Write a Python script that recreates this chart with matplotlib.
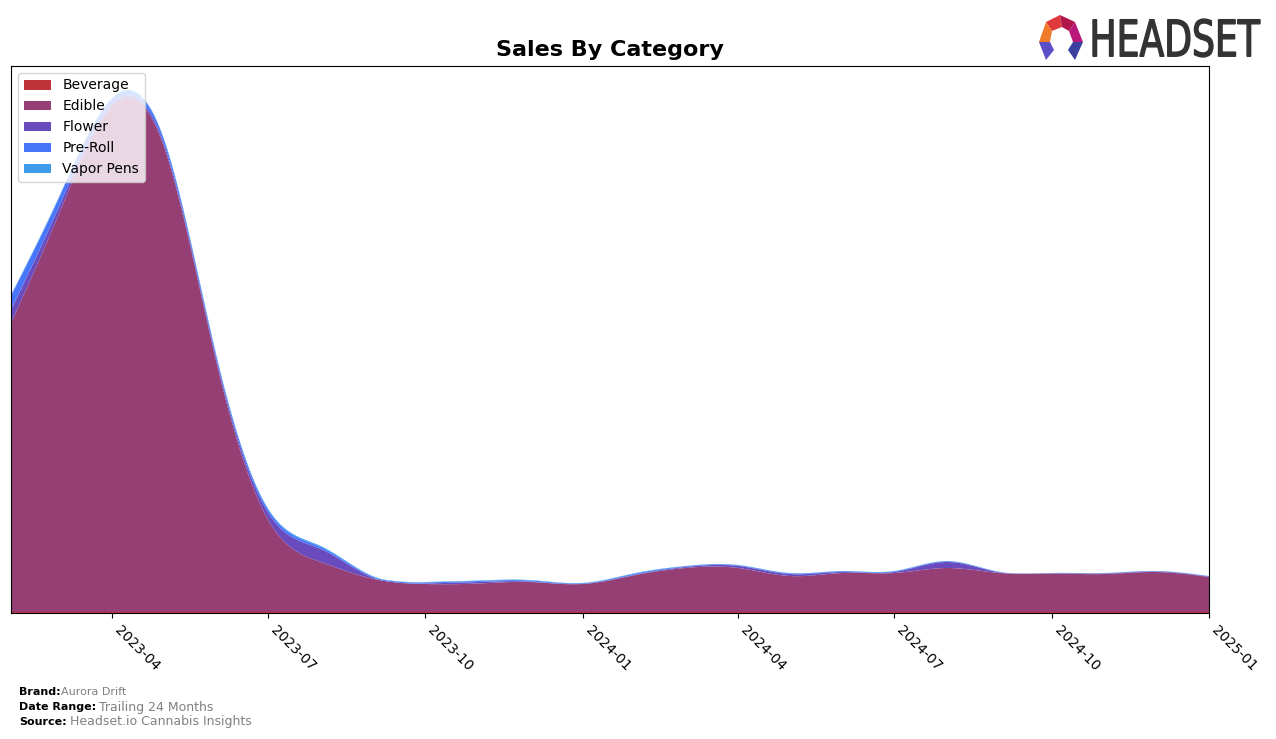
"""
Sales By Category - stacked area chart for Aurora Drift (trailing 24 months).

Saves: out.png
"""

import matplotlib
matplotlib.use("Agg")
import matplotlib.pyplot as plt
import matplotlib.dates as mdates
import numpy as np
import pandas as pd
from matplotlib.patches import PathPatch, Polygon
from matplotlib.textpath import TextPath
from matplotlib.font_manager import FontProperties
from matplotlib.transforms import Affine2D

W, H = 1276, 739

# ---------------------------------------------------------------------------
# Data (monthly, arbitrary sales units)
# ---------------------------------------------------------------------------
months = pd.date_range("2023-02-01", "2025-01-01", freq="MS")

categories = ["Beverage", "Edible", "Flower", "Pre-Roll", "Vapor Pens"]
colors = ["#c0323a", "#963f75", "#6a4bbd", "#4876fb", "#3d9be9"]

beverage = [1, 1, 1, 1, 1, 1, 1, 1, 1, 1, 1, 1,
            1, 1, 1, 1, 1, 1, 1, 1, 1, 1, 1, 1]
edible = [289, 398, 505, 467, 250, 93, 50, 33, 28, 28.5, 30, 28,
          37, 44, 44, 36, 39, 39, 44, 39, 38.5, 38, 40, 35]
flower = [13, 7, 3, 3, 3, 7, 13, 1, 0.5, 1.5, 0.5, 0.2,
          0.5, 1, 2, 2, 1, 1, 6, 0.5, 0.2, 0.5, 0.5, 0.5]
preroll = [14, 9, 5, 4, 3, 3, 2, 1, 1, 1, 1, 0.6,
           1, 0.7, 0.7, 0.7, 0.7, 0.7, 0.7, 0.3, 0.2, 0.3, 0.3, 0.3]
vapor = [1, 1, 1, 1, 1, 1, 1, 0.5, 0.5, 0.5, 0.5, 0.3,
         0.5, 0.3, 0.3, 0.3, 0.3, 0.3, 0.3, 0.2, 0.1, 0.2, 0.2, 0.2]

series = [beverage, edible, flower, preroll, vapor]


# ---------------------------------------------------------------------------
# Natural cubic spline for a smooth drawing of each monthly series
# ---------------------------------------------------------------------------
def smooth(x, y, xs):
    x = np.asarray(x, float)
    y = np.asarray(y, float)
    n = len(x)
    h = np.diff(x)
    A = np.zeros((n, n))
    b = np.zeros(n)
    A[0, 0] = A[-1, -1] = 1.0
    for i in range(1, n - 1):
        A[i, i - 1] = h[i - 1]
        A[i, i] = 2 * (h[i - 1] + h[i])
        A[i, i + 1] = h[i]
        b[i] = 6 * ((y[i + 1] - y[i]) / h[i] - (y[i] - y[i - 1]) / h[i - 1])
    M = np.linalg.solve(A, b)
    idx = np.clip(np.searchsorted(x, xs) - 1, 0, n - 2)
    x0, x1 = x[idx], x[idx + 1]
    hh = x1 - x0
    t0, t1 = x1 - xs, xs - x0
    out = (M[idx] * t0 ** 3 + M[idx + 1] * t1 ** 3) / (6 * hh) \
        + (y[idx] / hh - M[idx] * hh / 6) * t0 \
        + (y[idx + 1] / hh - M[idx + 1] * hh / 6) * t1
    return np.clip(out, 0, None)


def main():
    xnum = mdates.date2num(months)
    xs = np.linspace(xnum[0], xnum[-1], 800)
    ys = [smooth(xnum, s, xs) for s in series]

    fig = plt.figure(figsize=(W / 100, H / 100), dpi=100)
    ax = fig.add_axes([11 / W, 1 - 613 / H, (1209 - 11) / W, (613 - 66) / H])

    ax.stackplot(xs, ys, labels=categories, colors=colors)

    ax.set_xlim(xnum[0], xnum[-1])
    ax.set_ylim(0, 547)
    ax.set_yticks([])
    ax.xaxis.set_major_locator(mdates.MonthLocator(bymonth=[1, 4, 7, 10]))
    ax.xaxis.set_major_formatter(mdates.DateFormatter("%Y-%m"))
    for lab in ax.get_xticklabels():
        lab.set_rotation(-45)
        lab.set_ha("left")
        lab.set_fontsize(10)

    ax.set_title("Sales By Category", fontsize=16, fontweight="bold", pad=7)
    ax.legend(loc="upper left", fontsize=10, framealpha=0.8)

    # Footer
    fig.text(19 / W, 1 - 692 / H, "Brand:", fontsize=8, fontweight="bold", va="center")
    fig.text(61 / W, 1 - 692 / H, "Aurora Drift", fontsize=8, color="gray", va="center")
    fig.text(19 / W, 1 - 707 / H, "Date Range:", fontsize=8, fontweight="bold", va="center")
    fig.text(99 / W, 1 - 707 / H, "Trailing 24 Months", fontsize=9, color="gray", va="center")
    fig.text(19 / W, 1 - 722 / H, "Source:", fontsize=8, fontweight="bold", va="center")
    fig.text(70 / W, 1 - 722 / H, "Headset.io Cannabis Insights", fontsize=9, color="gray", va="center")

    # HEADSET logo: condensed word mark
    tp = TextPath((0, 0), "HEADSET", size=100,
                  prop=FontProperties(family="DejaVu Sans"))
    ext = tp.get_extents()
    x0, x1, y0, y1 = 1093, 1260, 19, 57
    sx = (x1 - x0) / ext.width
    sy = (y1 - y0) / ext.height
    tr = Affine2D().translate(-ext.x0, -ext.y0).scale(sx / W, sy / H) \
        .translate(x0 / W, 1 - y1 / H)
    fig.patches.append(PathPatch(tr.transform_path(tp), facecolor="#333333",
                                 edgecolor="#333333", linewidth=1.0,
                                 transform=fig.transFigure))

    # logo icon (ring of facets)
    def px(pts):
        return [(u / W, 1 - v / H) for u, v in pts]
    facets = [
        ([(1046, 22), (1060, 15), (1062, 27), (1052, 31)], "#e03a3e"),
        ([(1060, 15), (1075, 22), (1069, 31), (1062, 27)], "#b0164b"),
        ([(1046, 22), (1052, 31), (1050, 42), (1039, 42)], "#f07b2a"),
        ([(1075, 22), (1083, 42), (1073, 42), (1069, 31)], "#b8197a"),
        ([(1039, 42), (1050, 42), (1054, 50), (1046, 60)], "#5a4fc8"),
        ([(1083, 42), (1073, 42), (1068, 50), (1075, 60)], "#3b3fa0"),
    ]
    for pts, c in facets:
        fig.patches.append(Polygon(px(pts), closed=True, facecolor=c,
                                   edgecolor="none", transform=fig.transFigure))

    fig.savefig("out.png", dpi=100)


if __name__ == "__main__":
    main()
